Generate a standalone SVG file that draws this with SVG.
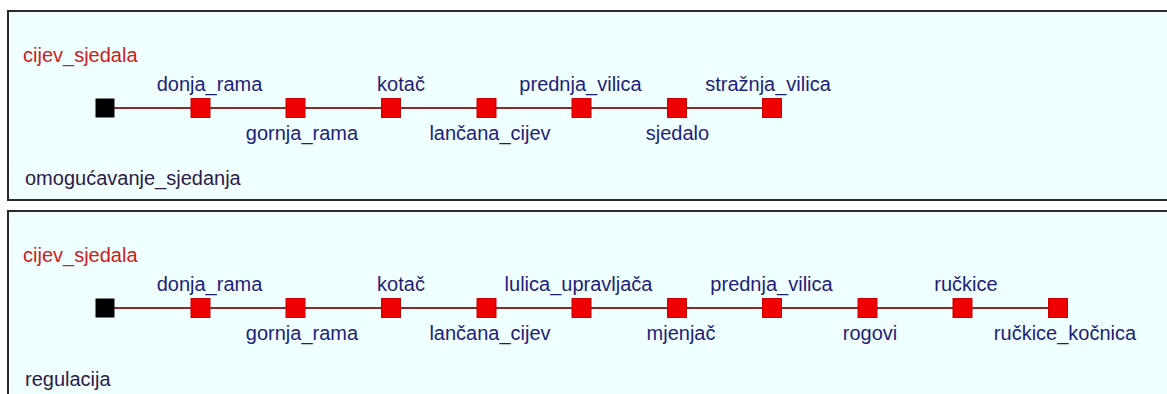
<svg xmlns="http://www.w3.org/2000/svg" width="1167" height="394" viewBox="0 0 1167 394">
<style>
.panel{fill:#f0ffff;stroke:#2a2a2a;stroke-width:2}
text{font-family:"Liberation Sans",Arial,sans-serif;font-size:20px}
.title{fill:#cc2020}
.lbl{fill:#1e1e78;text-anchor:middle}
.foot{fill:#2e1a48}
.n{fill:#ee0000;stroke:#cc0000;stroke-width:1}
.root{fill:#000000}
.edge{stroke:#8a2a2a;stroke-width:2;fill:none}
</style>
<rect width="1167" height="394" fill="#ffffff"/>
<g id="panel1">
<rect class="panel" x="8" y="11" width="1175" height="189"/>
<text class="title" x="23" y="62">cijev_sjedala</text>
<text class="foot" x="25" y="185">omogućavanje_sjedanja</text>
</g>
<g id="panel2">
<rect class="panel" x="8" y="211" width="1175" height="200"/>
<text class="title" x="23" y="262">cijev_sjedala</text>
<text class="foot" x="25" y="386">regulacija</text>
</g>
<g id="connectors">
<line class="edge" x1="105" y1="108" x2="772" y2="108"/>
<line class="edge" x1="105" y1="308" x2="1058" y2="308"/>
</g>
<g id="p1-root"><rect class="root" x="95.5" y="98.5" width="19" height="19"/></g>
<g id="p1-donja_rama"><rect class="n" x="191" y="98.5" width="19" height="19"/><text class="lbl" x="209.5" y="91">donja_rama</text></g>
<g id="p1-gornja_rama"><rect class="n" x="286" y="98.5" width="19" height="19"/><text class="lbl" x="302" y="140">gornja_rama</text></g>
<g id="p1-kotac"><rect class="n" x="381.5" y="98.5" width="19" height="19"/><text class="lbl" x="401" y="91">kotač</text></g>
<g id="p1-lancana_cijev"><rect class="n" x="477" y="98.5" width="19" height="19"/><text class="lbl" x="490" y="140">lančana_cijev</text></g>
<g id="p1-prednja_vilica"><rect class="n" x="572" y="98.5" width="19" height="19"/><text class="lbl" x="580.5" y="91">prednja_vilica</text></g>
<g id="p1-sjedalo"><rect class="n" x="667.5" y="98.5" width="19" height="19"/><text class="lbl" x="677.5" y="140">sjedalo</text></g>
<g id="p1-straznja_vilica"><rect class="n" x="762.5" y="98.5" width="19" height="19"/><text class="lbl" x="768" y="91">stražnja_vilica</text></g>
<g id="p2-root"><rect class="root" x="95.5" y="298.5" width="19" height="19"/></g>
<g id="p2-donja_rama"><rect class="n" x="191" y="298.5" width="19" height="19"/><text class="lbl" x="209.5" y="291">donja_rama</text></g>
<g id="p2-gornja_rama"><rect class="n" x="286" y="298.5" width="19" height="19"/><text class="lbl" x="302" y="340">gornja_rama</text></g>
<g id="p2-kotac"><rect class="n" x="381.5" y="298.5" width="19" height="19"/><text class="lbl" x="401" y="291">kotač</text></g>
<g id="p2-lancana_cijev"><rect class="n" x="477" y="298.5" width="19" height="19"/><text class="lbl" x="490" y="340">lančana_cijev</text></g>
<g id="p2-lulica_upravljaca"><rect class="n" x="572" y="298.5" width="19" height="19"/><text class="lbl" x="578.5" y="291">lulica_upravljača</text></g>
<g id="p2-mjenjac"><rect class="n" x="667.5" y="298.5" width="19" height="19"/><text class="lbl" x="681" y="340">mjenjač</text></g>
<g id="p2-prednja_vilica"><rect class="n" x="762.5" y="298.5" width="19" height="19"/><text class="lbl" x="771.5" y="291">prednja_vilica</text></g>
<g id="p2-rogovi"><rect class="n" x="858" y="298.5" width="19" height="19"/><text class="lbl" x="870" y="340">rogovi</text></g>
<g id="p2-ruckice"><rect class="n" x="953" y="298.5" width="19" height="19"/><text class="lbl" x="966" y="291">ručkice</text></g>
<g id="p2-ruckice_kocnica"><rect class="n" x="1048.5" y="298.5" width="19" height="19"/><text class="lbl" x="1065" y="340">ručkice_kočnica</text></g>
</svg>
